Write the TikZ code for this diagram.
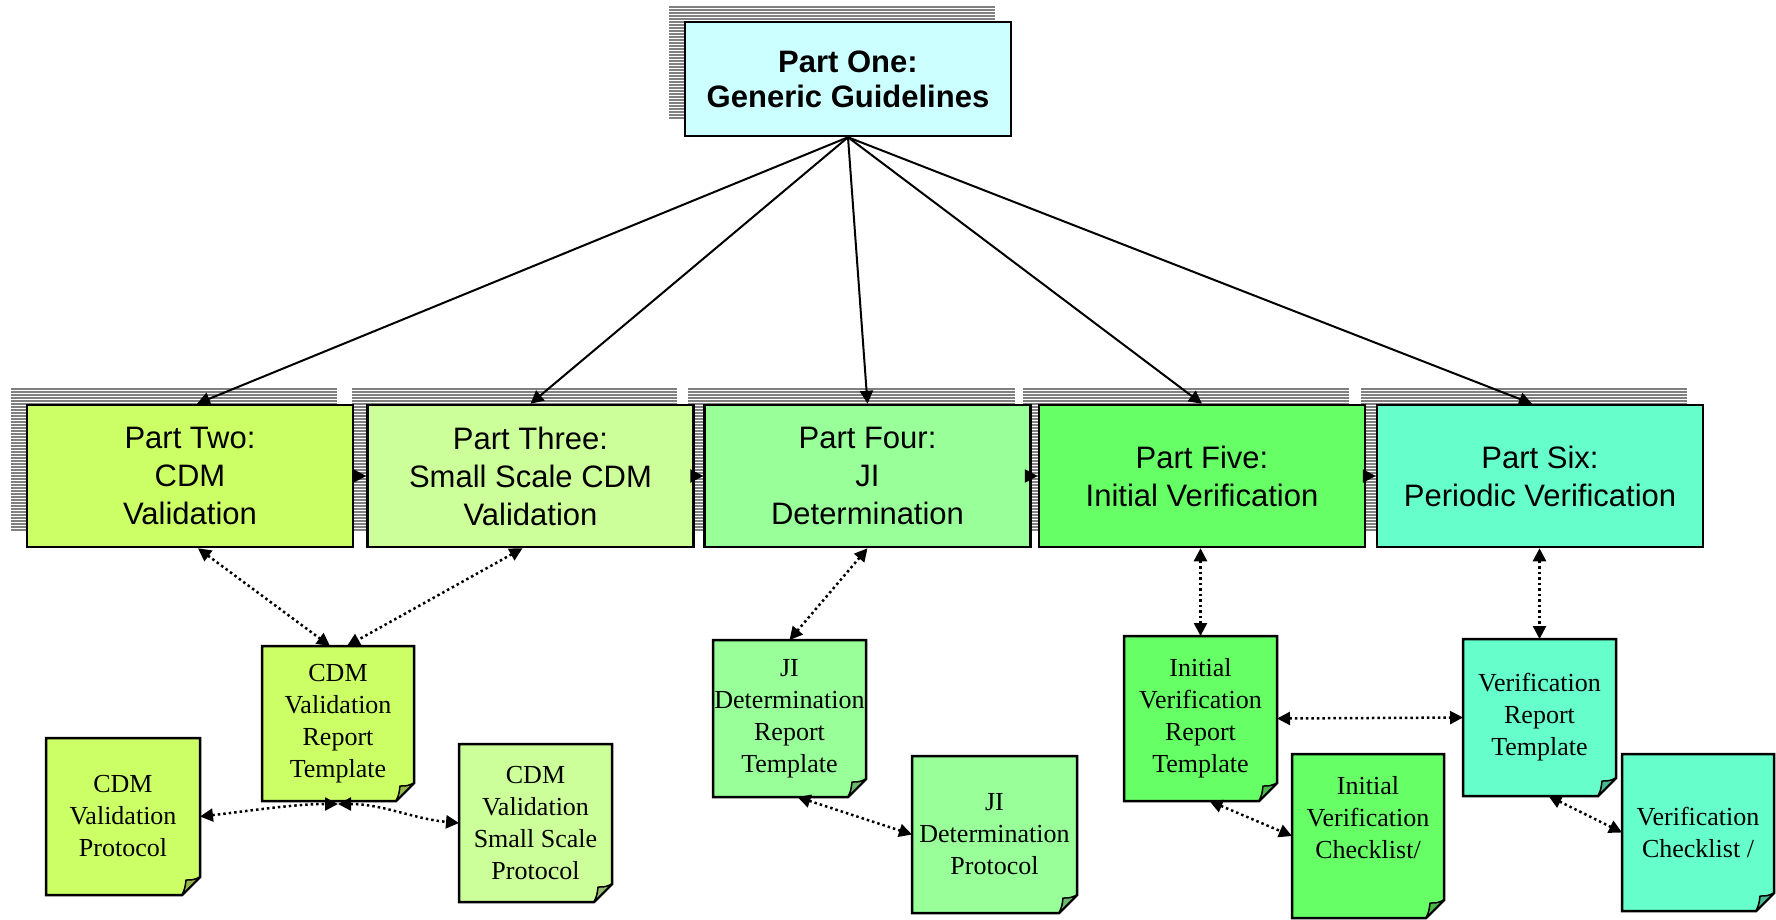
\documentclass[tikz,border=0pt]{standalone}
\usepackage{fontspec}
\setmainfont{Liberation Serif}
\newfontfamily\partfont{Liberation Sans}
\usetikzlibrary{arrows.meta}

\definecolor{cyanbox}{HTML}{CCFFFF}
\definecolor{limebox}{HTML}{CCFF66}
\definecolor{palelime}{HTML}{CCFF99}
\definecolor{mintbox}{HTML}{99FF99}
\definecolor{greenbox}{HTML}{66FF66}
\definecolor{aquabox}{HTML}{66FFCC}

\tikzset{
  arrowtip/.tip={Triangle[length=13pt,width=13pt]},
  partbox/.style={draw=black, line width=2.5pt, minimum width=326pt,
    minimum height=142pt, align=center, inner sep=0pt,
    font=\partfont\fontsize{31}{38}\selectfont},
  docframe/.style={inner sep=0pt, outer sep=0pt},
  docline/.style={draw=black, line width=2.5pt, line join=miter},
  foldline/.style={draw=black, line width=1.5pt, line join=round},
  doctext/.style={align=center, inner sep=0pt,
    font=\fontsize{26}{32}\selectfont},
  hatchline/.style={draw=black!50, line width=2.3pt},
  link/.style={line width=2pt, -arrowtip},
  dotlink/.style={line width=2.5pt, dash pattern=on 2.5pt off 3pt,
    arrowtip-arrowtip},
  dotstep/.style={line width=2.5pt, dash pattern=on 2.5pt off 3pt,
    -arrowtip},
}

% horizontal hatching used as the offset shadow of a box: x1 x2 y1 y2
\newcommand\hatchrows[4]{%
  \pgfmathtruncatemacro\hatchcount{(#4-#3)/3}%
  \foreach \k in {0,...,\hatchcount}{%
    \draw[hatchline] (#1,{#3+3*\k}) -- (#2,{#3+3*\k});}%
}

% document sheet with a turned-down corner
% [text shift] {name} {centre} {width} {height} {colour} {text}
\newcommand\docpage[7][0pt]{%
  \node[docframe, minimum width=#4, minimum height=#5] (#2) at (#3) {};
  \filldraw[docline, fill=#6] (#2.north west) -- (#2.north east)
    -- ([yshift=18pt]#2.south east) -- ([xshift=-18pt]#2.south east)
    -- (#2.south west) -- cycle;
  \filldraw[foldline, fill=#6!72!black] ([yshift=18pt]#2.south east)
    .. controls ([xshift=-7pt,yshift=15pt]#2.south east)
    .. ([xshift=-14pt,yshift=15pt]#2.south east)
    .. controls ([xshift=-15pt,yshift=7pt]#2.south east)
    .. ([xshift=-18pt]#2.south east) -- cycle;
  \node[doctext] (#2-text) at ([yshift=#1]#2.center) {#7};
}

\begin{document}
\begin{tikzpicture}[x=1pt, y=-1pt]
  \fill[white] (0,0) rectangle (1776,919);
  \useasboundingbox (0,0) rectangle (1776,919);

  % shadows
  \hatchrows{669}{995}{7}{118}
  \hatchrows{11}{337}{389}{530}
  \hatchrows{352}{677}{389}{530}
  \hatchrows{688}{1015}{389}{530}
  \hatchrows{1023}{1349}{389}{530}
  \hatchrows{1361}{1687}{389}{530}

  % parts
  \node[partbox, fill=cyanbox, minimum height=114pt,
    font=\partfont\bfseries\fontsize{31}{35}\selectfont]
    (p1) at (848,79) {Part One:\\Generic Guidelines};
  \node[partbox, fill=limebox] (p2) at (190,476) {Part Two:\\CDM\\Validation};
  \node[partbox, fill=palelime] (p3) at (530.5,476) {Part Three:\\Small Scale CDM\\Validation};
  \node[partbox, fill=mintbox] (p4) at (867.5,476) {Part Four:\\JI\\Determination};
  \node[partbox, fill=greenbox] (p5) at (1202,476) {Part Five:\\Initial Verification};
  \node[partbox, fill=aquabox] (p6) at (1540,476) {Part Six:\\Periodic Verification};

  % documents
  \docpage{cdmrep}{338,723.5}{152pt}{155pt}{limebox}{CDM\\Validation\\Report\\Template}
  \docpage{cdmprot}{123,816.5}{154pt}{157pt}{limebox}{CDM\\Validation\\Protocol}
  \docpage{cdmss}{535.5,823}{153pt}{158pt}{palelime}{CDM\\Validation\\Small Scale\\Protocol}
  \docpage{jirep}{789.5,718.5}{153pt}{157pt}{mintbox}{JI\\Determination\\Report\\Template}
  \docpage{jiprot}{994.5,834.5}{165pt}{157pt}{mintbox}{JI\\Determination\\Protocol}
  \docpage{ivrep}{1200.5,718.5}{153pt}{165pt}{greenbox}{Initial\\Verification\\Report\\Template}
  \docpage[18pt]{ivcheck}{1368,836}{152pt}{164pt}{greenbox}{Initial\\Verification\\Checklist/}
  \docpage{vrep}{1539.5,717.5}{153pt}{157pt}{aquabox}{Verification\\Report\\Template}
  \docpage{vcheck}{1698,832.5}{152pt}{157pt}{aquabox}{Verification\\Checklist /}

  % generic guidelines feed every part
  \draw[link] (p1.south) -- ([xshift=7pt]p2.north);
  \draw[link] (p1.south) -- (p3.north);
  \draw[link] (p1.south) -- (p4.north);
  \draw[link] (p1.south) -- (p5.north);
  \draw[link] (p1.south) -- ([xshift=-8pt]p6.north);

  % sequence of parts
  \draw[dotstep] (p2.east) -- (p3.west);
  \draw[dotstep] (p3.east) -- (p4.west);
  \draw[dotstep] (p4.east) -- (p5.west);
  \draw[dotstep] (p5.east) -- (p6.west);

  % parts and their documents
  \draw[dotlink] ([xshift=8pt]p2.south) -- ([xshift=-8pt]cdmrep.north);
  \draw[dotlink] ([xshift=-8pt]p3.south) -- ([xshift=9pt]cdmrep.north);
  \draw[dotlink] (p4.south) -- (jirep.north);
  \draw[dotlink] (ivrep.north |- p5.south) -- (ivrep.north);
  \draw[dotlink] (vrep.north |- p6.south) -- (vrep.north);

  % links between documents
  \draw[dotlink] (cdmprot.east) .. controls +(45,-5) and +(-45,0) .. ([yshift=-3pt]cdmrep.south);
  \draw[dotlink] ([yshift=-3pt]cdmrep.south) .. controls +(45,0) and +(-45,-4) .. (cdmss.west);
  \draw[dotlink] ([xshift=8pt]jirep.south) -- (jiprot.west);
  \draw[dotlink] ([xshift=9pt]ivrep.south) -- (ivcheck.west);
  \draw[dotlink] ([xshift=9pt]vrep.south) -- (vcheck.west);
  \draw[dotlink] (ivrep.east) -- (vrep.west);
\end{tikzpicture}
\end{document}
